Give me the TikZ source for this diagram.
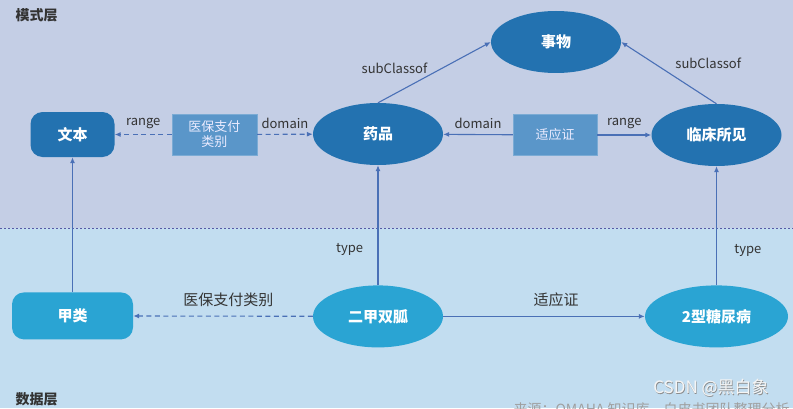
\documentclass[tikz,border=0pt]{standalone}
\usepackage{fontspec}
\setmainfont{Noto Sans CJK SC}
\usepackage{xcolor}
\usetikzlibrary{positioning, arrows.meta, shapes.geometric}

\definecolor{topbg}{HTML}{C4CEE5}
\definecolor{botbg}{HTML}{C2DDF0}
\definecolor{clsblue}{HTML}{2372B0}
\definecolor{instblue}{HTML}{2AA4D3}
\definecolor{propblue}{HTML}{5A96C9}
\definecolor{linkblue}{HTML}{4A70B6}
\definecolor{labelgray}{HTML}{333333}

\begin{document}
\begin{tikzpicture}[
        x=1pt, y=1pt,
        node distance=50pt and 50pt,
        every node/.style={font=\fontsize{13}{15}\selectfont, text=labelgray},
        cls/.style={ellipse, fill=clsblue, text=white, font=\fontsize{15}{18}\selectfont\bfseries, minimum width=130pt, minimum height=62pt, inner sep=0pt},
        clsbox/.style={rectangle, rounded corners=12pt, fill=clsblue, text=white, font=\fontsize{15}{18}\selectfont\bfseries, minimum width=84pt, minimum height=45pt},
        inst/.style={ellipse, fill=instblue, text=white, font=\fontsize{15}{18}\selectfont\bfseries, minimum width=130pt, minimum height=62pt, inner sep=0pt},
        instbox/.style={rectangle, rounded corners=12pt, fill=instblue, text=white, font=\fontsize{15}{18}\selectfont\bfseries, minimum width=121pt, minimum height=47pt},
        prop/.style={rectangle, fill=propblue, draw=propblue!80!white, text=white!92!blue, font=\fontsize{13}{15}\selectfont, minimum width=85pt, minimum height=41pt, align=center, inner sep=1pt},
        layer/.style={font=\fontsize{14}{16}\selectfont\bfseries, anchor=west},
        arrow/.style={-{Latex[length=6pt, width=5pt]}, linkblue, line width=1.1pt},
        dasharrow/.style={arrow, dash pattern=on 5pt off 3.5pt}
    ]
        \useasboundingbox (0,0) rectangle (793,408);
        \clip (0,0) rectangle (793,408);
        % layers
        \fill[topbg] (0,180) rectangle (793,408);
        \fill[botbg] (0,0) rectangle (793,180);
        \draw[gray!70!blue, line width=0.8pt, dash pattern=on 2pt off 2pt] (0,180) -- (793,180);
        \node[layer] (schema) at (12,393) {模式层};
        \node[layer] (data) at (12,9) {数据层};

        % schema layer
        \node[cls] (shiwu) at (556,366) {事物};
        \node[cls] (yaopin) at (378,274) {药品};
        \node[cls] (linchuang) at (716.5,273) {临床所见};
        \node[clsbox] (wenben) at (72.5,273.5) {文本};
        \node[prop, right=57pt of wenben] (yibao) {医保支付\\类别};
        \node[prop, left=54pt of linchuang, minimum width=84pt] (shiying) {适应证};

        % data layer
        \node[instbox, below=135pt of wenben] (jialei) {甲类};
        \node[inst, below=120pt of yaopin] (erjia) {二甲双胍};
        \node[inst, below=119pt of linchuang, minimum width=143pt] (tangniao) {2型糖尿病};

        \draw[arrow] (yaopin.north) -- node[pos=0.56, left=10pt] {subClassof} (shiwu.west);
        \draw[arrow] (linchuang.north) -- node[pos=0.65, right=17pt] {subClassof} (shiwu.east);
        \draw[dasharrow] (yibao) -- node[above=2pt] {range} (wenben);
        \draw[dasharrow] (yibao) -- node[above=2pt] {domain} (yaopin);
        \draw[arrow] (shiying) -- node[above=2pt] {domain} (yaopin);
        \draw[arrow] (shiying) -- node[above=2pt] {range} (linchuang);
        \draw[arrow] (jialei) -- (wenben);
        \draw[arrow] (erjia) -- node[pos=0.3, left=11pt] {type} (yaopin);
        \draw[arrow] (tangniao) -- node[pos=0.29, right=14pt] {type} (linchuang);
        \draw[dasharrow] (erjia) -- node[pos=0.47, above=6pt, font=\fontsize{15}{17}\selectfont] {医保支付类别} (jialei);
        \draw[arrow] (erjia) -- node[pos=0.56, above=6pt, font=\fontsize{15}{17}\selectfont] {适应证} (tangniao);

        % footer
        \node[anchor=west, text=gray!75, font=\fontsize{14}{16}\selectfont] (source) at (510,-1) {来源：OMAHA 知识库，白皮书团队整理分析};
        \node[text=gray!90, font=\fontsize{17}{19}\selectfont] (markshade) at (711.7,19.3) {CSDN @黑白象};
        \node[text=white!92!gray, font=\fontsize{17}{19}\selectfont] (mark) at (711,20) {CSDN @黑白象};
    \end{tikzpicture}
\end{document}
